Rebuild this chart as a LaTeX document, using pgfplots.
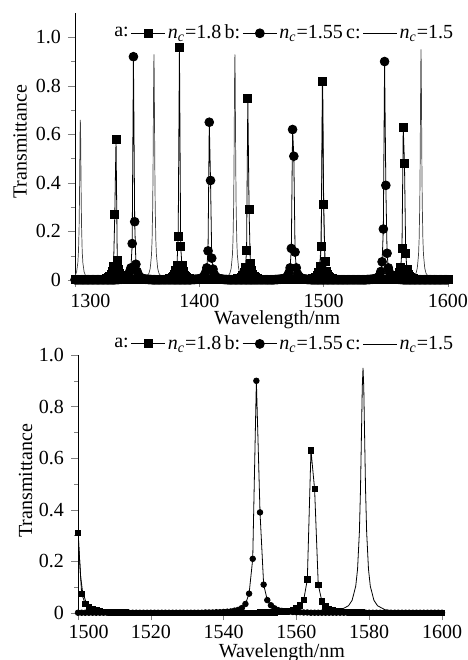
\documentclass[border=0pt]{standalone}
\usepackage{fontspec}
\setmainfont{Liberation Serif}
\usepackage{pgfplots}
\usepackage{pgfplotstable}
\pgfplotsset{compat=1.18}

\newcommand{\nc}{{\itshape n}\textsubscript{\itshape c}}

% spectra a (n_c=1.8) and b (n_c=1.55), 1 nm steps
\pgfplotstableread{
x a b
1300 0.001 0.001
1301 0.001 0.001
1302 0.001 0.001
1303 0.001 0.001
1304 0.001 0.001
1305 0.001 0.001
1306 0.001 0.001
1307 0.001 0.001
1308 0.001 0.001
1309 0.001 0.001
1310 0.001 0.001
1311 0.001 0.001
1312 0.001 0.001
1313 0.001 0.001
1314 0.001 0.001
1315 0.001 0.001
1316 0.001 0.001
1317 0.001 0.001
1318 0.001 0.001
1319 0.002 0.001
1320 0.002 0.001
1321 0.002 0.001
1322 0.003 0.001
1323 0.004 0.001
1324 0.004 0.001
1325 0.006 0.001
1326 0.008 0.001
1327 0.011 0.001
1328 0.016 0.001
1329 0.025 0.001
1330 0.035 0.001
1331 0.055 0.001
1332 0.27 0.001
1333 0.58 0.002
1334 0.08 0.002
1335 0.045 0.002
1336 0.028 0.003
1337 0.017 0.003
1338 0.011 0.004
1339 0.008 0.005
1340 0.006 0.007
1341 0.005 0.009
1342 0.004 0.013
1343 0.003 0.02
1344 0.003 0.035
1345 0.002 0.05
1346 0.002 0.15
1347 0.001 0.92
1348 0.001 0.24
1349 0.001 0.065
1350 0.001 0.035
1351 0.001 0.022
1352 0.001 0.014
1353 0.001 0.009
1354 0.001 0.007
1355 0.001 0.005
1356 0.001 0.004
1357 0.001 0.003
1358 0.001 0.003
1359 0.001 0.002
1360 0.001 0.002
1361 0.001 0.002
1362 0.001 0.001
1363 0.001 0.001
1364 0.001 0.001
1365 0.001 0.001
1366 0.001 0.001
1367 0.001 0.001
1368 0.001 0.001
1369 0.001 0.001
1370 0.002 0.001
1371 0.002 0.001
1372 0.002 0.001
1373 0.003 0.001
1374 0.003 0.001
1375 0.004 0.001
1376 0.005 0.001
1377 0.007 0.001
1378 0.009 0.001
1379 0.014 0.001
1380 0.022 0.001
1381 0.039 0.001
1382 0.06 0.001
1383 0.18 0.001
1384 0.96 0.001
1385 0.14 0.001
1386 0.06 0.001
1387 0.034 0.001
1388 0.02 0.001
1389 0.013 0.001
1390 0.009 0.001
1391 0.007 0.001
1392 0.005 0.001
1393 0.004 0.001
1394 0.003 0.002
1395 0.003 0.002
1396 0.002 0.002
1397 0.002 0.003
1398 0.001 0.003
1399 0.001 0.004
1400 0.001 0.005
1401 0.001 0.006
1402 0.001 0.008
1403 0.001 0.012
1404 0.001 0.018
1405 0.001 0.03
1406 0.001 0.05
1407 0.001 0.12
1408 0.001 0.65
1409 0.001 0.41
1410 0.001 0.09
1411 0.001 0.045
1412 0.001 0.024
1413 0.001 0.015
1414 0.001 0.01
1415 0.001 0.007
1416 0.001 0.006
1417 0.001 0.004
1418 0.001 0.004
1419 0.001 0.003
1420 0.001 0.002
1421 0.001 0.002
1422 0.001 0.002
1423 0.001 0.001
1424 0.001 0.001
1425 0.002 0.001
1426 0.002 0.001
1427 0.002 0.001
1428 0.003 0.001
1429 0.003 0.001
1430 0.004 0.001
1431 0.005 0.001
1432 0.006 0.001
1433 0.008 0.001
1434 0.012 0.001
1435 0.018 0.001
1436 0.03 0.001
1437 0.05 0.001
1438 0.12 0.001
1439 0.75 0.001
1440 0.29 0.001
1441 0.07 0.001
1442 0.04 0.001
1443 0.024 0.001
1444 0.015 0.001
1445 0.01 0.001
1446 0.007 0.001
1447 0.006 0.001
1448 0.004 0.001
1449 0.004 0.001
1450 0.003 0.001
1451 0.002 0.001
1452 0.002 0.001
1453 0.002 0.001
1454 0.001 0.001
1455 0.001 0.001
1456 0.001 0.001
1457 0.001 0.001
1458 0.001 0.001
1459 0.001 0.001
1460 0.001 0.001
1461 0.001 0.002
1462 0.001 0.002
1463 0.001 0.002
1464 0.001 0.003
1465 0.001 0.003
1466 0.001 0.004
1467 0.001 0.005
1468 0.001 0.006
1469 0.001 0.008
1470 0.001 0.011
1471 0.001 0.017
1472 0.001 0.029
1473 0.001 0.05
1474 0.001 0.13
1475 0.001 0.62
1476 0.001 0.51
1477 0.001 0.115
1478 0.001 0.05
1479 0.001 0.025
1480 0.001 0.016
1481 0.001 0.011
1482 0.001 0.008
1483 0.001 0.006
1484 0.001 0.004
1485 0.002 0.004
1486 0.002 0.003
1487 0.002 0.002
1488 0.003 0.002
1489 0.003 0.002
1490 0.004 0.001
1491 0.005 0.001
1492 0.006 0.001
1493 0.009 0.001
1494 0.012 0.001
1495 0.019 0.001
1496 0.032 0.001
1497 0.055 0.001
1498 0.14 0.001
1499 0.82 0.001
1500 0.31 0.001
1501 0.075 0.001
1502 0.035 0.001
1503 0.022 0.001
1504 0.014 0.001
1505 0.01 0.001
1506 0.007 0.001
1507 0.005 0.001
1508 0.004 0.001
1509 0.003 0.001
1510 0.003 0.001
1511 0.002 0.001
1512 0.002 0.001
1513 0.002 0.001
1514 0.001 0.001
1515 0.001 0.001
1516 0.001 0.001
1517 0.001 0.001
1518 0.001 0.001
1519 0.001 0.001
1520 0.001 0.001
1521 0.001 0.001
1522 0.001 0.001
1523 0.001 0.001
1524 0.001 0.001
1525 0.001 0.001
1526 0.001 0.001
1527 0.001 0.001
1528 0.001 0.001
1529 0.001 0.001
1530 0.001 0.001
1531 0.001 0.001
1532 0.001 0.001
1533 0.001 0.001
1534 0.001 0.001
1535 0.001 0.002
1536 0.001 0.002
1537 0.001 0.002
1538 0.001 0.003
1539 0.001 0.003
1540 0.001 0.004
1541 0.001 0.005
1542 0.001 0.006
1543 0.001 0.009
1544 0.001 0.012
1545 0.001 0.019
1546 0.001 0.035
1547 0.001 0.075
1548 0.001 0.21
1549 0.001 0.90
1550 0.002 0.39
1551 0.002 0.11
1552 0.002 0.05
1553 0.003 0.03
1554 0.003 0.018
1555 0.004 0.011
1556 0.005 0.008
1557 0.006 0.006
1558 0.008 0.005
1559 0.011 0.004
1560 0.018 0.003
1561 0.03 0.003
1562 0.05 0.002
1563 0.13 0.002
1564 0.63 0.001
1565 0.48 0.001
1566 0.11 0.001
1567 0.045 0.001
1568 0.025 0.001
1569 0.016 0.001
1570 0.011 0.001
1571 0.008 0.001
1572 0.006 0.001
1573 0.004 0.001
1574 0.004 0.001
1575 0.003 0.001
1576 0.002 0.001
1577 0.002 0.001
1578 0.002 0.001
1579 0.001 0.001
1580 0.001 0.001
1581 0.001 0.001
1582 0.001 0.001
1583 0.001 0.001
1584 0.001 0.001
1585 0.001 0.001
1586 0.001 0.001
1587 0.001 0.001
1588 0.001 0.001
1589 0.001 0.001
1590 0.001 0.001
1591 0.001 0.001
1592 0.001 0.001
1593 0.001 0.001
1594 0.001 0.001
1595 0.001 0.001
1596 0.001 0.001
1597 0.001 0.001
1598 0.001 0.001
1599 0.001 0.001
1600 0.001 0.001
}\spec

% spectrum c (n_c=1.5), denser near the peaks
\pgfplotstableread{
x c
1300 0.017
1300.3 0.020
1301.3 0.034
1302.3 0.072
1302.8 0.118
1303.3 0.217
1303.6 0.33
1303.9 0.497
1304.1 0.610
1304.3 0.66
1304.5 0.610
1304.7 0.497
1305.0 0.33
1305.3 0.217
1305.8 0.118
1306.3 0.072
1307.3 0.034
1308.3 0.020
1310.3 0.009
1314.3 0.003
1334 0.001
1353.5 0.005
1357.5 0.012
1359.5 0.028
1360.5 0.048
1361.5 0.102
1362.0 0.166
1362.5 0.306
1362.8 0.465
1363.1 0.701
1363.3 0.860
1363.5 0.93
1363.7 0.860
1363.9 0.701
1364.2 0.465
1364.5 0.306
1365.0 0.166
1365.5 0.102
1366.5 0.048
1367.5 0.028
1369.5 0.012
1373.5 0.005
1396 0.001
1418.6 0.005
1422.6 0.012
1424.6 0.028
1425.6 0.048
1426.6 0.102
1427.1 0.166
1427.6 0.306
1427.9 0.465
1428.2 0.701
1428.4 0.860
1428.6 0.93
1428.8 0.860
1429.0 0.701
1429.3 0.465
1429.6 0.306
1430.1 0.166
1430.6 0.102
1431.6 0.048
1432.6 0.028
1434.6 0.012
1438.6 0.005
1464 0.001
1489.2 0.004
1493.2 0.011
1495.2 0.024
1496.2 0.041
1497.2 0.088
1497.7 0.143
1498.2 0.263
1498.5 0.40
1498.8 0.603
1499.0 0.739
1499.2 0.80
1499.4 0.739
1499.6 0.603
1499.9 0.40
1500.2 0.263
1500.7 0.143
1501.2 0.088
1502.2 0.041
1503.2 0.024
1505.2 0.011
1509.2 0.004
1539 0.001
1568.3 0.005
1572.3 0.013
1574.3 0.028
1575.3 0.049
1576.3 0.104
1576.8 0.170
1577.3 0.313
1577.6 0.475
1577.9 0.716
1578.1 0.878
1578.3 0.95
1578.5 0.878
1578.7 0.716
1579.0 0.475
1579.3 0.313
1579.8 0.170
1580.3 0.104
1581.3 0.049
1582.3 0.028
1584.3 0.013
1588.3 0.005
1600 0.002
}\ctab

\pgfplotsset{
  specaxis/.style={
    scale only axis,
    axis x line*=bottom,
    axis y line*=left,
    tick align=outside,
    major tick length=3.5pt,
    minor tick length=2pt,
    ymin=0,
    tick label style={font=\fontsize{10}{12}\selectfont},
    label style={font=\fontsize{10}{12}\selectfont},
    /pgf/number format/assume math mode=true,
    xlabel={Wavelength/nm},
    ylabel={Transmittance},
    ytick={0,0.2,0.4,0.6,0.8,1.0},
    yticklabels={0,0.2,0.4,0.6,0.8,1.0},
    minor ytick={0.1,0.3,0.5,0.7,0.9},
    legend columns=-1,
    legend style={draw=none, fill=none, inner sep=0pt, anchor=west,
      font=\fontsize{10}{12}\selectfont, nodes={inner sep=1pt}},
  },
}

\begin{document}
\begin{tikzpicture}

% upper panel: 1300-1600 nm
\begin{axis}[specaxis,
    at={(37.5pt,190pt)}, anchor=south west,
    width=186.5pt, height=133.5pt,
    xmin=1300, xmax=1600, ymax=1.1,
    xtick={1300,1400,1500,1600},
    xticklabels={{\hspace*{15.5pt}1300},1400,1500,1600},
    xlabel style={at={(axis description cs:0.542,-0.150)}, anchor=center},
    ylabel style={at={(axis description cs:-0.147,0.517)}, anchor=center},
    legend style={at={(0.099,0.924)}},
]
\addplot[forget plot, black!75, line width=0.35pt] table[x=x, y=c] {\ctab};
\addplot[forget plot, black, line width=0.4pt, mark=*, mark size=2.2pt] table[x=x, y=b] {\spec};
\addplot[forget plot, black, line width=0.4pt, mark=square*, mark size=2pt] table[x=x, y=a] {\spec};
\addlegendimage{empty legend}\addlegendentry{a:}
\addlegendimage{black, line width=0.5pt, mark=square*, mark size=2pt}\addlegendentry{\nc=1.8\,b:}
\addlegendimage{black, line width=0.5pt, mark=*, mark size=2.2pt}\addlegendentry{\nc=1.55\,c:}
\addlegendimage{legend image code/.code={\path (0cm,0cm) -- (0.6cm,0cm);}}\addlegendentry{\nc=1.5}
\end{axis}

% lower panel: 1500-1600 nm
\begin{axis}[specaxis,
    at={(39pt,23.5pt)}, anchor=south west,
    width=182pt, height=129pt,
    xmin=1500, xmax=1600, ymax=1.0,
    xtick={1500,1520,1540,1560,1580,1600},
    xticklabels={{\hspace*{10.5pt}1500},1520,1540,1560,1580,1600},
    xticklabel style={yshift=1pt},
    xlabel style={at={(axis description cs:0.560,-0.153)}, anchor=center},
    ylabel style={at={(axis description cs:-0.144,0.512)}, anchor=center},
    legend style={at={(0.093,1.043)}},
]
\addplot[forget plot, black, line width=0.4pt] table[x=x, y=c] {\ctab};
\addplot[forget plot, black, line width=0.4pt, mark=*, mark size=1.4pt] table[x=x, y=b] {\spec};
\addplot[forget plot, black, line width=0.4pt, mark=square*, mark size=1.35pt] table[x=x, y=a] {\spec};
\addlegendimage{empty legend}\addlegendentry{a:}
\addlegendimage{black, line width=0.5pt, mark=square*, mark size=2pt}\addlegendentry{\nc=1.8\,b:}
\addlegendimage{black, line width=0.5pt, mark=*, mark size=2.2pt}\addlegendentry{\nc=1.55\,c:}
\addlegendimage{black, line width=0.4pt}\addlegendentry{\nc=1.5}
\end{axis}

\pgfresetboundingbox
\path[use as bounding box] (0,0) rectangle (233.5pt,330pt);
\end{tikzpicture}
\end{document}
